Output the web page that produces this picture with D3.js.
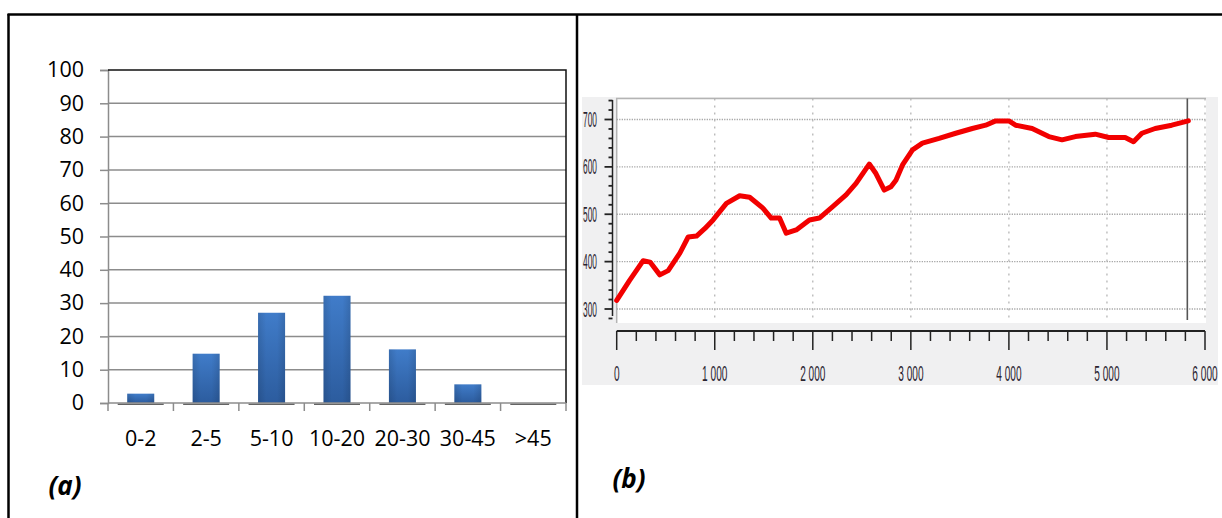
<!DOCTYPE html>
<html>
<head>
<meta charset="utf-8">
<script src="https://cdn.jsdelivr.net/npm/d3@7/dist/d3.min.js"></script>
<style>
  html, body { margin: 0; padding: 0; background: #fff; }
  svg { display: block; }
</style>
</head>
<body>
<svg id="fig" width="1222" height="518"></svg>
<script>
// ---------- data ----------
const categories = ["0-2", "2-5", "5-10", "10-20", "20-30", "30-45", ">45"];
const percentages = [2.8, 14.8, 27.1, 32.2, 16.1, 5.6, 0];
const yTicksA = [0, 10, 20, 30, 40, 50, 60, 70, 80, 90, 100];

const seriesX = [0, 130, 270, 340, 440, 525, 644, 729, 814, 900, 983, 1119, 1254, 1356, 1491, 1576, 1661, 1729, 1831, 1966, 2067, 2203, 2339, 2441, 2576, 2644, 2729, 2797, 2848, 2915, 3017, 3118, 3288, 3458, 3627, 3763, 3865, 4000, 4068, 4237, 4407, 4542, 4678, 4881, 5017, 5186, 5271, 5356, 5492, 5661, 5830];
const seriesY = [318, 360, 402, 399, 372, 381, 418, 452, 454, 470, 488, 523, 539, 536, 513, 492, 492, 460, 467, 488, 492, 516, 541, 565, 606, 586, 551, 558, 572, 604, 636, 650, 660, 671, 681, 688, 697, 697, 688, 681, 664, 657, 664, 669, 662, 662, 653, 671, 681, 688, 697];
const yTicksB = [300, 400, 500, 600, 700];
const xTicksB = [0, 1000, 2000, 3000, 4000, 5000, 6000];
const xTickLabelsB = ["0", "1 000", "2 000", "3 000", "4 000", "5 000", "6 000"];

const svg = d3.select("#fig");
const FONT = "'Open Sans', Lato, sans-serif";

// ---------- frame ----------
svg.append("line").attr("x1", 7.5).attr("x2", 1222).attr("y1", 14.5).attr("y2", 14.5)
  .attr("stroke", "#000").attr("stroke-width", 2.5);
svg.append("line").attr("x1", 8.5).attr("x2", 8.5).attr("y1", 14).attr("y2", 518)
  .attr("stroke", "#000").attr("stroke-width", 2.5);
svg.append("line").attr("x1", 577).attr("x2", 577).attr("y1", 14).attr("y2", 518)
  .attr("stroke", "#000").attr("stroke-width", 2.5);

// ---------- panel (a) ----------
const aL = 108, aR = 566, aT = 70, aB = 403;
const xA = d3.scaleBand().domain(categories).range([aL, aR]).paddingInner(0.587).paddingOuter(0.2935);
const yA = d3.scaleLinear().domain([0, 100]).range([aB, aT]);

const defs = svg.append("defs");
const grad = defs.append("linearGradient").attr("id", "barGrad")
  .attr("x1", 0).attr("x2", 0).attr("y1", 0).attr("y2", 1);
grad.append("stop").attr("offset", "0%").attr("stop-color", "#407cc9");
grad.append("stop").attr("offset", "100%").attr("stop-color", "#2c5c9e");
const gradH = defs.append("linearGradient").attr("id", "barGradH")
  .attr("x1", 0).attr("x2", 1).attr("y1", 0).attr("y2", 0);
gradH.append("stop").attr("offset", "0%").attr("stop-color", "#000").attr("stop-opacity", 0.12);
gradH.append("stop").attr("offset", "30%").attr("stop-color", "#000").attr("stop-opacity", 0);
gradH.append("stop").attr("offset", "70%").attr("stop-color", "#000").attr("stop-opacity", 0);
gradH.append("stop").attr("offset", "100%").attr("stop-color", "#000").attr("stop-opacity", 0.12);

// gridlines
svg.append("g").selectAll("line").data(yTicksA.filter(d => d > 0 && d < 100)).join("line")
  .attr("x1", aL).attr("x2", aR).attr("y1", d => yA(d)).attr("y2", d => yA(d))
  .attr("stroke", "#8c8c8c").attr("stroke-width", 1.5);

// y axis
const yAxisA = d3.axisLeft(yA).tickValues(yTicksA).tickSize(8).tickPadding(16);
const gyA = svg.append("g").attr("transform", `translate(${aL},0)`).call(yAxisA);
gyA.select(".domain").attr("stroke", "#8c8c8c").attr("stroke-width", 1.5);
gyA.selectAll(".tick line").attr("stroke", "#8c8c8c").attr("stroke-width", 1.5);
gyA.selectAll(".tick text").attr("font-family", FONT)
  .attr("font-size", 21.5).attr("fill", "#000");

// top & right border
svg.append("path").attr("d", `M${aL},${aT}H${aR}V${aB}`).attr("fill", "none")
  .attr("stroke", "#111").attr("stroke-width", 1.5);

// bar shadows
svg.append("g").selectAll("line").data(categories).join("line")
  .attr("x1", d => xA(d) + xA.bandwidth() / 2 - 23)
  .attr("x2", d => xA(d) + xA.bandwidth() / 2 + 23)
  .attr("y1", aB + 1.2).attr("y2", aB + 1.2)
  .attr("stroke", "#4a4a4a").attr("stroke-width", 1.6).attr("opacity", 0.85);

// bars
const bars = svg.append("g");
bars.selectAll("rect.b").data(categories).join("rect").attr("class", "b")
  .attr("x", d => xA(d)).attr("width", xA.bandwidth())
  .attr("y", (d, i) => yA(percentages[i])).attr("height", (d, i) => aB - yA(percentages[i]))
  .attr("fill", "url(#barGrad)");
bars.selectAll("rect.h").data(categories).join("rect").attr("class", "h")
  .attr("x", d => xA(d)).attr("width", xA.bandwidth())
  .attr("y", (d, i) => yA(percentages[i])).attr("height", (d, i) => aB - yA(percentages[i]))
  .attr("fill", "url(#barGradH)");

// x axis
const step = xA.step();
const bounds = d3.range(categories.length + 1).map(i => aL + i * step);
svg.append("line").attr("x1", aL).attr("x2", aR).attr("y1", aB).attr("y2", aB)
  .attr("stroke", "#8c8c8c").attr("stroke-width", 1.5);
svg.append("g").selectAll("line").data(bounds).join("line")
  .attr("x1", d => d).attr("x2", d => d).attr("y1", aB).attr("y2", aB + 8)
  .attr("stroke", "#8c8c8c").attr("stroke-width", 1.5);
svg.append("g").selectAll("text").data(categories).join("text")
  .attr("x", d => xA(d) + xA.bandwidth() / 2).attr("y", 446)
  .attr("text-anchor", "middle").attr("font-family", FONT)
  .attr("font-size", 21.5).attr("fill", "#000").text(d => d);

svg.append("text").attr("x", 65).attr("y", 495).attr("text-anchor", "middle")
  .attr("font-family", FONT).attr("font-weight", 700)
  .attr("font-style", "italic").attr("font-size", 26).text("(a)");

// ---------- panel (b) ----------
svg.append("rect").attr("x", 582).attr("y", 97).attr("width", 636).attr("height", 288)
  .attr("fill", "#f0f0f1");
const bL = 616.7, bR = 1206, bT = 98.5, bB = 323;
svg.append("rect").attr("x", bL).attr("y", bT).attr("width", bR - bL).attr("height", bB - bT)
  .attr("fill", "#fff");
svg.append("path").attr("d", `M${bL},${bB}V${bT}H${bR}`).attr("fill", "none")
  .attr("stroke", "#b4b4b4").attr("stroke-width", 1.5);

const xB = d3.scaleLinear().domain([0, 6000]).range([616.7, 1205]);
const yB = d3.scaleLinear().domain([300, 700]).range([309, 119.5]);

// dotted grid
svg.append("g").selectAll("line").data(yTicksB).join("line")
  .attr("x1", bL).attr("x2", bR).attr("y1", d => yB(d)).attr("y2", d => yB(d))
  .attr("stroke", "#a0a0a0").attr("stroke-width", 1.3).attr("stroke-dasharray", "1.2,1.3");
svg.append("g").selectAll("line").data(xTicksB.slice(1)).join("line")
  .attr("x1", d => xB(d)).attr("x2", d => xB(d)).attr("y1", bT).attr("y2", 321)
  .attr("stroke", "#b0b0b0").attr("stroke-width", 1.2).attr("stroke-dasharray", "2,5");

// data end cursor
svg.append("line").attr("x1", xB(seriesX[seriesX.length - 1]) - 1).attr("x2", xB(seriesX[seriesX.length - 1]) - 1)
  .attr("y1", bT).attr("y2", 320).attr("stroke", "#555").attr("stroke-width", 1.6);

// line
const pts = seriesX.map((x, i) => [x, seriesY[i]]);
svg.append("path").datum(pts)
  .attr("d", d3.line().x(d => xB(d[0])).y(d => yB(d[1])))
  .attr("fill", "none").attr("stroke", "#f20000").attr("stroke-width", 5)
  .attr("stroke-linejoin", "round").attr("stroke-linecap", "round");

// y ruler
const yMinor = d3.range(280, 741, 20).filter(v => v % 100 !== 0);
svg.append("line").attr("x1", 612.5).attr("x2", 612.5).attr("y1", 100).attr("y2", 316)
  .attr("stroke", "#222").attr("stroke-width", 1.5);
svg.append("g").selectAll("line").data(yMinor).join("line")
  .attr("x1", 608.5).attr("x2", 612.5).attr("y1", d => yB(d)).attr("y2", d => yB(d))
  .attr("stroke", "#222").attr("stroke-width", 1.8);
svg.append("g").selectAll("line").data(yTicksB).join("line")
  .attr("x1", 604.5).attr("x2", 612.5).attr("y1", d => yB(d)).attr("y2", d => yB(d))
  .attr("stroke", "#222").attr("stroke-width", 1.8);
svg.append("g").selectAll("text").data(yTicksB).join("text")
  .attr("transform", d => `translate(597,${yB(d) + 7.5}) scale(0.38,1)`)
  .attr("text-anchor", "end").attr("font-family", "'Liberation Sans', Arial, sans-serif")
  .attr("font-size", 22).attr("fill", "#2a2430").text(d => d);

// x ruler
const xMinor = d3.range(0, 6001, 200).filter(v => v % 1000 !== 0);
svg.append("line").attr("x1", xB(0)).attr("x2", xB(6000)).attr("y1", 331).attr("y2", 331)
  .attr("stroke", "#222").attr("stroke-width", 1.8);
svg.append("g").selectAll("line").data(xMinor).join("line")
  .attr("x1", d => xB(d)).attr("x2", d => xB(d)).attr("y1", 331).attr("y2", 341)
  .attr("stroke", "#222").attr("stroke-width", 1.5);
svg.append("g").selectAll("line").data(xTicksB).join("line")
  .attr("x1", d => xB(d)).attr("x2", d => xB(d)).attr("y1", 331).attr("y2", 350)
  .attr("stroke", "#222").attr("stroke-width", 1.5);
svg.append("g").selectAll("text").data(xTicksB).join("text")
  .attr("transform", d => `translate(${xB(d)},${381}) scale(0.46,1)`)
  .attr("text-anchor", "middle").attr("font-family", "'Liberation Sans', Arial, sans-serif")
  .attr("font-size", 22).attr("fill", "#2a2430").text((d, i) => xTickLabelsB[i]);

svg.append("text").attr("x", 629).attr("y", 488).attr("text-anchor", "middle")
  .attr("font-family", FONT).attr("font-weight", 700)
  .attr("font-style", "italic").attr("font-size", 26).text("(b)");
</script>
</body>
</html>
